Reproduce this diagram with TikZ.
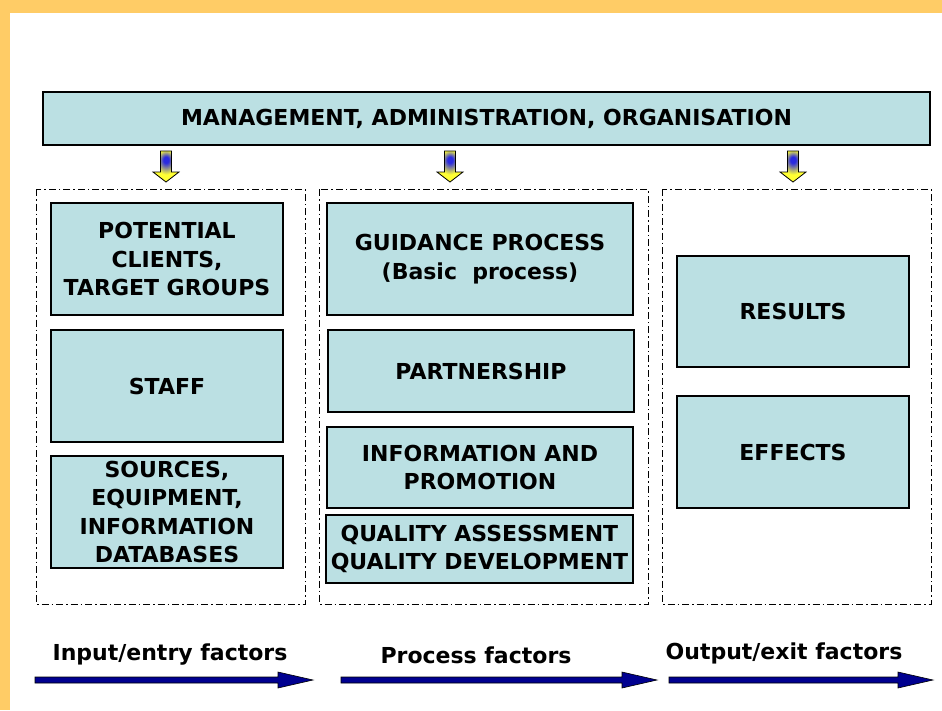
\documentclass[tikz,border=0pt]{standalone}
\usepackage{fontspec}
\setmainfont{DejaVu Sans}
\definecolor{frameorange}{HTML}{FFCC66}
\definecolor{boxfill}{HTML}{BBE0E3}
\definecolor{arrownavy}{HTML}{000090}
\definecolor{arrowyellow}{HTML}{FFFF33}
\definecolor{arrowblue}{HTML}{2A2AE0}
% blue core in the shaft, fading to yellow
\pgfdeclareradialshading{bluecore}{\pgfpoint{0bp}{12bp}}{%
  color(0bp)=(arrowblue); color(5bp)=(arrowblue);
  color(20bp)=(arrowyellow); color(50bp)=(arrowyellow)}
\tikzset{
  x=1pt, y=-1pt,
  factorbox/.style={draw=black, line width=2.8pt, fill=boxfill, anchor=north west,
    outer sep=0pt, align=center, inner sep=0pt,
    font=\fontsize{22}{28.5}\selectfont\bfseries},
  group/.style={draw=black, line width=0.9pt, dash pattern=on 7pt off 3pt on 1.5pt off 3pt},
  flowlabel/.style={font=\fontsize{22}{26}\selectfont\bfseries, inner sep=0pt},
  flowarrow/.style={fill=arrownavy, draw=black, line width=0.6pt},
  downarrow/.style={draw=black, line width=0.8pt, shading=bluecore},
}
\begin{document}
\begin{tikzpicture}
  % page and frame
  \useasboundingbox (0,0) rectangle (942,710);
  \fill[white] (0,0) rectangle (942,710);
  \fill[frameorange] (0,0) rectangle (942,13);
  \fill[frameorange] (0,0) rectangle (10,710);

  % management bar
  \node[factorbox, minimum width=887pt, minimum height=53pt] (mgmt) at (43,92)
    {MANAGEMENT, ADMINISTRATION, ORGANISATION};

  % group frames
  \draw[group] (36,189) rectangle (305,604);
  \draw[group] (319,189) rectangle (648,604);
  \draw[group] (662,189) rectangle (931,604);

  % down arrows under the management bar
  \foreach \cx in {166,450,793} {
    \shade[downarrow] (\cx-5.5,151) -- (\cx+5.5,151) -- (\cx+5.5,172) -- (\cx+13,172)
      -- (\cx,182) -- (\cx-13,172) -- (\cx-5.5,172) -- cycle;
  }

  % input/entry column
  \node[factorbox, minimum width=232pt, minimum height=112pt] (clients) at (51,203)
    {POTENTIAL\\CLIENTS,\\TARGET GROUPS};
  \node[factorbox, minimum width=232pt, minimum height=112pt] (staff) at (51,330)
    {STAFF};
  \node[factorbox, minimum width=232pt, minimum height=112pt] (sources) at (51,456)
    {SOURCES,\\EQUIPMENT,\\INFORMATION\\DATABASES};

  % process column
  \node[factorbox, minimum width=306pt, minimum height=112pt] (guidance) at (327,203)
    {GUIDANCE PROCESS\\(Basic\ \ process)};
  \node[factorbox, minimum width=306pt, minimum height=82pt] (partner) at (328,330)
    {PARTNERSHIP};
  \node[factorbox, minimum width=306pt, minimum height=81pt] (info) at (327,427)
    {INFORMATION AND\\PROMOTION};
  \node[factorbox, minimum width=307pt, minimum height=68pt] (quality) at (326,515)
    {QUALITY ASSESSMENT\\QUALITY DEVELOPMENT};

  % output/exit column
  \node[factorbox, minimum width=232pt, minimum height=111pt] (results) at (677,256)
    {RESULTS};
  \node[factorbox, minimum width=232pt, minimum height=112pt] (effects) at (677,396)
    {EFFECTS};

  % factor labels
  \node[flowlabel] (inlbl) at (170,655) {Input/entry factors};
  \node[flowlabel] (proclbl) at (476,655) {Process factors};
  \node[flowlabel] (outlbl) at (784,653) {Output/exit factors};

  % flow arrows
  \foreach \xa/\xb/\xc in {35/278/313, 341/622/657, 669/898/933} {
    \filldraw[flowarrow] (\xa,677) -- (\xb,677) -- (\xb,672) -- (\xc,680)
      -- (\xb,688) -- (\xb,683) -- (\xa,683) -- cycle;
  }
\end{tikzpicture}
\end{document}
